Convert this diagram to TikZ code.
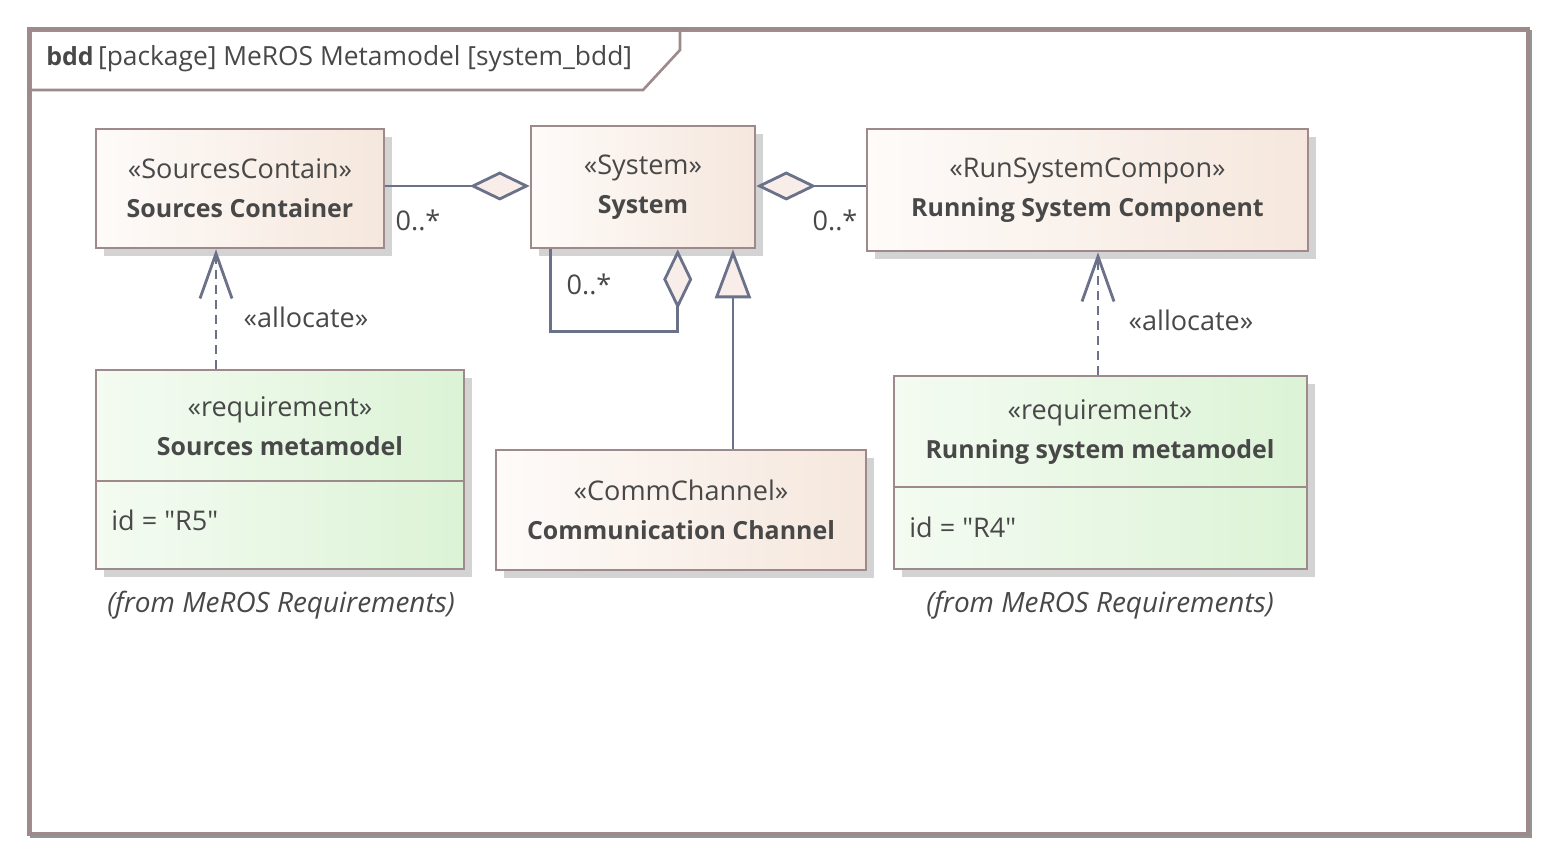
\documentclass[tikz,border=0pt]{standalone}
\usepackage{fontspec}
\setmainfont{Open Sans}
\usepackage{tikz}
\usetikzlibrary{arrows.meta,shadows,calc,positioning}

\definecolor{framecol}{RGB}{158,138,138}
\definecolor{linecol}{RGB}{106,113,137}
\definecolor{txtcol}{RGB}{72,72,72}
\definecolor{peachL}{RGB}{254,251,249}
\definecolor{peachR}{RGB}{245,231,221}
\definecolor{greenL}{RGB}{244,251,242}
\definecolor{greenR}{RGB}{220,243,214}
\definecolor{tipfill}{RGB}{248,237,232}
\definecolor{shadowcol}{RGB}{211,211,211}

\newcommand\blockname[1]{{\fontsize{14.2}{22}\selectfont\bfseries #1}}
\newcommand\fromnote[1]{{\fontsize{15.9}{22}\selectfont\itshape #1}}

\begin{document}
\begin{tikzpicture}[x=0.02cm,y=-0.02cm,
		font=\fontsize{15.4}{22}\selectfont, text=txtcol,
		block/.style 2 args={
			draw=framecol,
			line width=1.5pt,
			left color=#1,
			right color=#2,
			drop shadow={shadow xshift=0.16cm, shadow yshift=-0.16cm, fill=shadowcol, opacity=1},
			align=center,
			inner sep=0},
		classbox/.style={block={peachL}{peachR}},
		reqbox/.style={block={greenL}{greenR}},
		frameline/.style={draw=framecol, line width=1.5pt},
		conn/.style={draw=linecol, line width=1.6pt},
		aggr/.style={conn, -{Diamond[length=1.2cm,width=0.58cm,fill=tipfill]}},
		gen/.style={conn, -{Triangle[length=0.98cm,width=0.72cm,fill=tipfill]}},
		alloc/.style={conn, dash pattern=on 5pt off 3.5pt, -{Straight Barb[length=0.9cm,width=0.64cm]}},
		lbl/.style={inner sep=0}
		]
		\useasboundingbox (0,0) rectangle (1557,864);
		% frame and tab
		\draw[shadowcol!70!black, line width=0.6pt] (31,31) rectangle (1531,837);
		\draw[frameline, line width=2pt] (29,29) rectangle (1528,834);
		\draw[frameline] (29,90) -- (643,90) -- (680,50) -- (680,29);
		\node[lbl, anchor=west, font=\fontsize{15}{22}\selectfont] (title) at (46,59) {\blockname{bdd}\,[package] MeROS Metamodel [system\_bdd]};
		% blocks
		\node[classbox, minimum width=5.76cm, minimum height=2.38cm] (srccont) at (240,188.5) {«SourcesContain»\\\blockname{Sources Container}};
		\node[classbox, minimum width=4.48cm, minimum height=2.44cm] (system) at (643,187) {«System»\\\blockname{System}};
		\node[classbox, minimum width=8.82cm, minimum height=2.44cm] (runcomp) at (1087.5,190) {«RunSystemCompon»\\\blockname{Running System Component}};
		\node[classbox, minimum width=7.4cm, minimum height=2.4cm] (commch) at (681,510) {«CommChannel»\\\blockname{Communication Channel}};
		% requirements
		\node[reqbox, minimum width=7.36cm, minimum height=3.98cm] (srcreq) at (280,469.5) {};
		\draw[frameline] (srcreq.west |- 0,481) -- (srcreq.east |- 0,481);
		\node[lbl, align=center] (srcreqtitle) at (280,426) {«requirement»\\\blockname{Sources metamodel}};
		\node[lbl, anchor=west] (srcreqid) at (111,520) {id = \textquotedbl R5\textquotedbl};
		\node[lbl] (srcreqfrom) at (281,605) {\fromnote{(from MeROS Requirements)}};
		\node[reqbox, minimum width=8.26cm, minimum height=3.86cm] (runreq) at (1100.5,472.5) {};
		\draw[frameline] (runreq.west |- 0,487) -- (runreq.east |- 0,487);
		\node[lbl, align=center] (runreqtitle) at (1100,432) {«requirement»\\\blockname{Running system metamodel}};
		\node[lbl, anchor=west] (runreqid) at (909,527) {id = \textquotedbl R4\textquotedbl};
		\node[lbl] (runreqfrom) at (1100,605) {\fromnote{(from MeROS Requirements)}};
		% connectors
		\draw[aggr] (srccont.east |- 0,186) -- (system.west |- 0,186);
		\draw[aggr] (runcomp.west |- 0,186) -- (system.east |- 0,186);
		\draw[aggr] ($(system.south west)+(21,0)$) -- ++(0,82) -| ($(system.south west)+(148,0)$);
		\coordinate (genx) at (733,0);
		\draw[gen] (commch.north -| genx) -- (system.south -| genx);
		\coordinate (srcallocx) at (216,0);
		\coordinate (runallocx) at (1098,0);
		\draw[alloc] (srcreq.north -| srcallocx) -- (srccont.south -| srcallocx);
		\draw[alloc] (runreq.north -| runallocx) -- (runcomp.south -| runallocx);
		% labels
		\node[lbl] (mult1) at (418,220) {0..*};
		\node[lbl] (mult2) at (835,220) {0..*};
		\node[lbl] (mult3) at (589,284) {0..*};
		\node[lbl] (alloc1) at (306,317) {«allocate»};
		\node[lbl] (alloc2) at (1191,320) {«allocate»};
\end{tikzpicture}
\end{document}
